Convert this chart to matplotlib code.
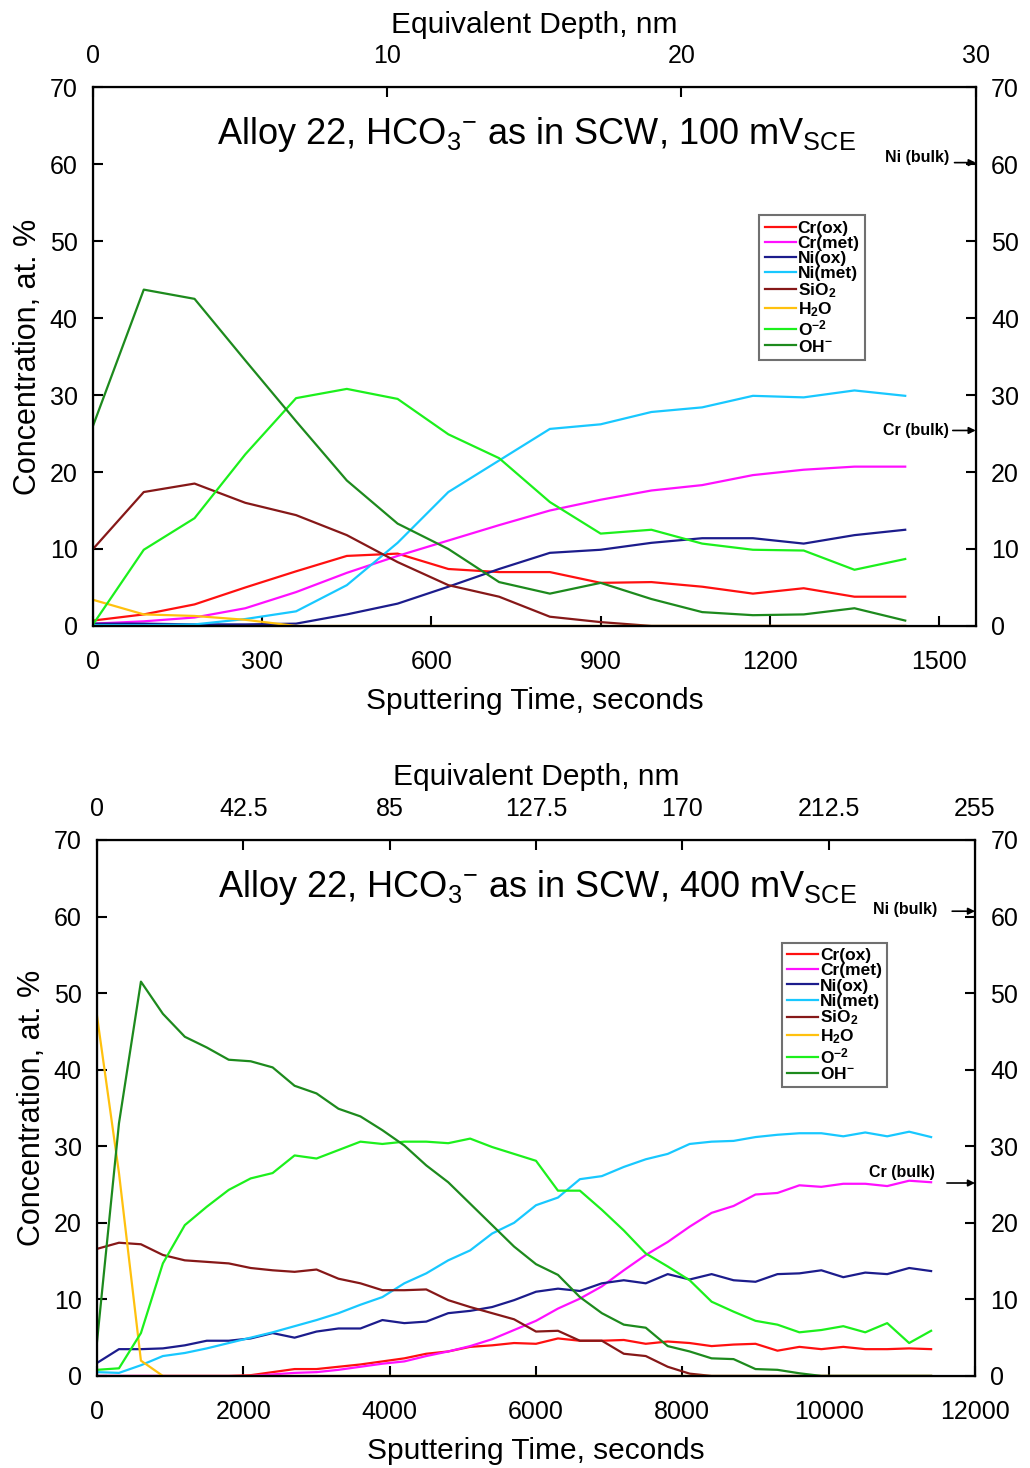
import matplotlib.pyplot as plt

plt.rcParams['font.family'] = ['Liberation Sans', 'DejaVu Sans']
plt.rcParams['mathtext.fontset'] = 'custom'
plt.rcParams['mathtext.rm'] = 'Liberation Sans'
plt.rcParams['mathtext.it'] = 'Liberation Sans:italic'
plt.rcParams['mathtext.bf'] = 'Liberation Sans:bold'

# ---- data: 100 mV (top panel), sputtering time in s ----
t_a = [0, 90, 180, 270, 360, 450, 540, 630, 720, 810, 900, 990, 1080, 1170, 1260, 1350, 1440]
cr_ox_a = [0.7, 1.5, 2.8, 5.0, 7.1, 9.1, 9.4, 7.4, 7.0, 7.0, 5.6, 5.7, 5.1, 4.2, 4.9, 3.8, 3.8]
cr_met_a = [0.3, 0.6, 1.1, 2.3, 4.4, 6.9, 9.1, 11.1, 13.1, 15.0, 16.4, 17.6, 18.3, 19.6, 20.3, 20.7, 20.7]
ni_ox_a = [0.3, 0.3, 0.2, 0.2, 0.3, 1.5, 2.9, 5.1, 7.4, 9.5, 9.9, 10.8, 11.4, 11.4, 10.7, 11.8, 12.5]
ni_met_a = [0.1, 0.1, 0.2, 0.9, 1.9, 5.3, 10.8, 17.4, 21.5, 25.6, 26.2, 27.8, 28.4, 29.9, 29.7, 30.6, 29.9]
sio2_a = [10.0, 17.4, 18.5, 16.0, 14.4, 11.8, 8.3, 5.3, 3.8, 1.2, 0.5, 0.0, 0, 0, 0, 0, 0]
h2o_a = [3.4, 1.5, 1.3, 0.8, 0, 0, 0, 0, 0, 0, 0, 0, 0, 0, 0, 0, 0]
o2_a = [0.2, 9.9, 14.0, 22.3, 29.6, 30.8, 29.5, 24.9, 21.8, 16.1, 12.0, 12.5, 10.7, 9.9, 9.8, 7.3, 8.7]
oh_a = [26.0, 43.7, 42.5, 34.5, 26.6, 18.9, 13.3, 10.0, 5.7, 4.2, 5.6, 3.5, 1.8, 1.4, 1.5, 2.3, 0.7]

# ---- data: 400 mV (bottom panel) ----
t_b = [0, 300, 600, 900, 1200, 1500, 1800, 2100, 2400, 2700, 3000, 3300, 3600, 3900,
       4200, 4500, 4800, 5100, 5400, 5700, 6000, 6300, 6600, 6900, 7200, 7500, 7800,
       8100, 8400, 8700, 9000, 9300, 9600, 9900, 10200, 10500, 10800, 11100, 11400]
cr_ox_b = [0, 0, 0, 0, 0, 0, 0, 0.1, 0.5, 0.9, 0.9, 1.2, 1.5, 1.9, 2.3, 2.9, 3.2, 3.8, 4.0, 4.3,
           4.2, 4.9, 4.6, 4.6, 4.7, 4.2, 4.5, 4.3, 3.9, 4.1, 4.2, 3.3, 3.8, 3.5, 3.8, 3.5, 3.5, 3.6, 3.5]
cr_met_b = [0, 0, 0, 0, 0, 0, 0, 0, 0.2, 0.4, 0.5, 0.8, 1.2, 1.6, 1.9, 2.6, 3.2, 3.9, 4.8, 6.0,
            7.2, 8.8, 10.1, 11.7, 13.8, 15.8, 17.5, 19.5, 21.3, 22.2, 23.7, 23.9, 24.9, 24.7, 25.1, 25.1, 24.8, 25.5, 25.3]
ni_ox_b = [1.7, 3.5, 3.5, 3.6, 4.0, 4.6, 4.6, 4.9, 5.6, 5.0, 5.8, 6.2, 6.2, 7.3, 6.9, 7.1, 8.2, 8.5, 9.0, 9.9,
           11.0, 11.4, 11.1, 12.1, 12.5, 12.1, 13.3, 12.6, 13.3, 12.5, 12.3, 13.3, 13.4, 13.8, 12.9, 13.5, 13.3, 14.1, 13.7]
ni_met_b = [0.5, 0.4, 1.4, 2.6, 3.0, 3.6, 4.3, 5.0, 5.7, 6.5, 7.3, 8.2, 9.3, 10.3, 12.1, 13.4, 15.1, 16.4, 18.6, 20.0,
            22.3, 23.3, 25.7, 26.1, 27.3, 28.3, 29.0, 30.3, 30.6, 30.7, 31.2, 31.5, 31.7, 31.7, 31.3, 31.8, 31.3, 31.9, 31.2]
sio2_b = [16.6, 17.4, 17.2, 15.8, 15.1, 14.9, 14.7, 14.1, 13.8, 13.6, 13.9, 12.7, 12.1, 11.2, 11.2, 11.3, 9.9, 9.0, 8.2, 7.4,
          5.8, 5.9, 4.6, 4.6, 2.9, 2.6, 1.2, 0.3, 0, 0, 0, 0, 0, 0, 0, 0, 0, 0, 0]
h2o_b = [47.0, 26.5, 2.0, 0, 0, 0, 0, 0, 0, 0, 0, 0, 0, 0, 0, 0, 0, 0, 0, 0,
         0, 0, 0, 0, 0, 0, 0, 0, 0, 0, 0, 0, 0, 0, 0, 0, 0, 0, 0]
o2_b = [0.8, 1.0, 5.6, 14.7, 19.7, 22.1, 24.3, 25.8, 26.5, 28.8, 28.4, 29.5, 30.6, 30.3, 30.6, 30.6, 30.4, 31.0, 29.9, 29.0,
        28.1, 24.2, 24.2, 21.7, 19.0, 16.0, 14.3, 12.5, 9.7, 8.4, 7.2, 6.7, 5.7, 6.0, 6.5, 5.7, 6.9, 4.3, 5.9]
oh_b = [4.5, 33.0, 51.5, 47.3, 44.3, 42.9, 41.3, 41.1, 40.3, 37.9, 36.9, 34.9, 33.9, 32.1, 30.1, 27.5, 25.3, 22.5, 19.7, 16.9,
        14.6, 13.2, 10.3, 8.2, 6.7, 6.3, 3.9, 3.2, 2.3, 2.2, 0.9, 0.8, 0.35, 0, 0, 0, 0, 0, 0]

labels = ['Cr(ox)', 'Cr(met)', 'Ni(ox)', 'Ni(met)', r'SiO$_{\mathbf{2}}$', r'H$_{\mathbf{2}}$O',
          r'O$^{\mathbf{-2}}$', r'OH$^{\mathbf{-}}$']
colors = ['#ff1010', '#ff10ff', '#1c1c8c', '#18c8ff', '#861818', '#ffc10e', '#1cf01c', '#1d8a1d']

time_ticks_a = [0, 300, 600, 900, 1200, 1500]
depth_ticks_a = [0, 10, 20, 30]
depth_labels_a = ['0', '10', '20', '30']
time_ticks_b = [0, 2000, 4000, 6000, 8000, 10000, 12000]
depth_ticks_b = [0, 42.5, 85, 127.5, 170, 212.5, 255]
depth_labels_b = ['0', '42.5', '85', '127.5', '170', '212.5', '255']

fig = plt.figure(figsize=(10.3, 14.68), dpi=100)


def draw_panel(rect, t, series, xmax, tticks, dmax, dticks, dlabels, title, leg_xy,
               ni_y, cr_y, ni_txt, cr_txt):
    ax = fig.add_axes(rect)
    for s, c, lab in zip(series, colors, labels):
        ax.plot(t, s, color=c, lw=1.6, label=lab)
    ax.set_xlim(0, xmax)
    ax.set_ylim(0, 70)
    ax.set_xticks(tticks)
    ax.set_yticks(range(0, 71, 10))
    ax.tick_params(direction='in', length=7, width=1.5, labelsize=18,
                   right=True, labelright=True, top=False)
    ax.tick_params(axis='x', pad=17)
    ax.tick_params(axis='y', pad=11)
    for sp in ax.spines.values():
        sp.set_linewidth(1.6)
    ax.set_xlabel('Sputtering Time, seconds', fontsize=21.5, labelpad=10)
    ax.set_ylabel('Concentration, at. %', fontsize=22, labelpad=5)

    ax2 = ax.twiny()
    ax2.set_xlim(0, dmax)
    ax2.set_xticks(dticks)
    ax2.set_xticklabels(dlabels)
    ax2.tick_params(direction='in', length=7, width=1.5, labelsize=18, pad=14)
    ax2.set_xlabel('Equivalent Depth, nm', fontsize=21.5, labelpad=8)

    ax.text(0.502, 0.912, title, transform=ax.transAxes, fontsize=26,
            ha='center', va='center')

    leg = ax.legend(loc='upper left', bbox_to_anchor=leg_xy,
                    prop={'weight': 'bold', 'size': 12.5},
                    handlelength=1.8, handletextpad=0.1, labelspacing=0.0,
                    borderpad=0.3, borderaxespad=0, fancybox=False, framealpha=1)
    leg.get_frame().set_edgecolor('#707070')
    leg.get_frame().set_linewidth(1.5)

    # bulk composition markers on the right spine
    trans = ax.get_yaxis_transform()
    arrow = dict(arrowstyle='-|>', color='black', lw=1.2, mutation_scale=10,
                 shrinkA=0, shrinkB=0)
    ax.annotate('', xy=(1.0, ni_y[0]), xytext=(ni_y[1], ni_y[0]),
                xycoords=trans, textcoords=trans, arrowprops=arrow)
    ax.annotate('', xy=(1.0, cr_y[0]), xytext=(cr_y[1], cr_y[0]),
                xycoords=trans, textcoords=trans, arrowprops=arrow)
    ax.text(ni_txt[0], ni_txt[1], 'Ni (bulk)', transform=trans, fontsize=11.5,
            fontweight='bold', ha='right', va='center')
    ax.text(cr_txt[0], cr_txt[1], 'Cr (bulk)', transform=trans, fontsize=11.5,
            fontweight='bold', ha='right', va='center')
    return ax


draw_panel([0.0903, 0.5736, 0.857, 0.367], t_a,
           [cr_ox_a, cr_met_a, ni_ox_a, ni_met_a, sio2_a, h2o_a, o2_a, oh_a],
           1565, time_ticks_a, 30, depth_ticks_a, depth_labels_a,
           r'Alloy 22, HCO$_3{}^{-}$ as in SCW, 100 mV$_{\mathrm{SCE}}$',
           (0.755, 0.762), (60.2, 0.976), (25.4, 0.974), (0.970, 60.9), (0.970, 25.4))

draw_panel([0.0942, 0.0627, 0.8524, 0.3651], t_b,
           [cr_ox_b, cr_met_b, ni_ox_b, ni_met_b, sio2_b, h2o_b, o2_b, oh_b],
           12000, time_ticks_b, 255, depth_ticks_b, depth_labels_b,
           r'Alloy 22, HCO$_3{}^{-}$ as in SCW, 400 mV$_{\mathrm{SCE}}$',
           (0.78, 0.808), (60.7, 0.974), (25.2, 0.968), (0.957, 60.9), (0.954, 26.6))

fig.savefig('out.png', dpi=100)
